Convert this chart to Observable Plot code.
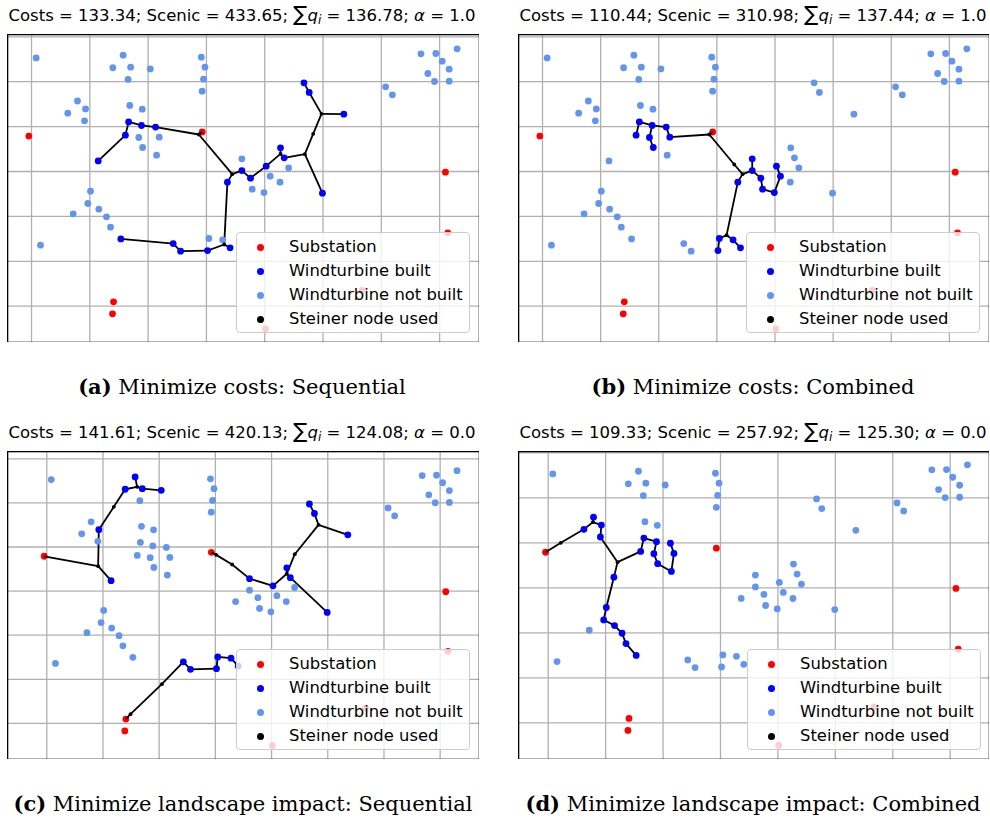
<!DOCTYPE html>
<html><head><meta charset="utf-8">
<script src="https://cdn.jsdelivr.net/npm/d3@7"></script>
<script src="https://cdn.jsdelivr.net/npm/@observablehq/plot@0.6"></script>
<style>
html,body{margin:0;padding:0;background:#fff}
#page{position:relative;width:990px;height:821px;overflow:hidden;background:#fff}
.panel{position:absolute}
.panel svg{display:block}
.legend{position:absolute;width:234px;height:101px;box-sizing:border-box;background:rgba(255,255,255,0.8);border:1px solid #cccccc;border-radius:4px;font-family:"DejaVu Sans";font-size:16.4px;color:#000}
.legend .row{position:absolute;left:0;height:24px;width:100%}
.legend .mk{position:absolute;left:19.5px;top:8.5px;width:7px;height:7px;border-radius:50%}
.legend .lb{position:absolute;left:52px;top:2px;line-height:20px;white-space:nowrap}
#text{position:absolute;left:0;top:0}
</style>
</head><body><div id="page"></div>
<script>
// ---------- data (grid units, y grows downward) ----------
const turbines = [
 [1,0.08,0.47],[2,1.572,0.41],[3,1.395,0.69],[4,1.70,0.676],[5,2.037,0.715],[6,1.656,0.95],
 [7,2.912,0.454],[8,2.975,0.676],[9,2.95,0.944],[10,2.927,1.211],[11,0.789,1.43],[12,0.926,1.607],
 [13,0.622,1.70],[14,0.909,1.871],[15,1.685,1.53],[16,1.90,1.611],[17,1.84,2.243],[18,2.19,2.236],
 [19,1.906,2.465],[20,2.145,2.636],[21,3.608,2.718],[22,1.012,3.438],[23,0.966,3.713],[24,1.155,3.839],
 [25,0.715,3.943],[26,1.286,4.01],[27,1.355,4.24],[28,0.154,4.64],[29,3.042,4.492],[30,3.278,4.522],
 [31,1.666,1.895],[32,1.886,1.975],[33,2.128,2.01],[34,1.61,2.191],[35,1.144,2.764],[36,3.608,2.98],
 [37,3.36,3.237],[38,1.532,4.502],[39,2.43,4.604],[40,2.557,4.774],[41,3.019,4.76],[42,3.406,4.70],
 [43,6.68,0.379],[44,6.935,0.372],[45,7.30,0.268],[46,7.044,0.543],[47,7.164,0.721],[48,6.798,0.817],
 [49,6.912,0.996],[50,7.164,0.988],[51,6.074,1.114],[52,6.19,1.292],[53,4.094,3.104],[54,3.786,3.393],
 [55,3.988,3.47],[56,4.262,3.238],[57,4.41,2.918],[58,4.673,1.025],[59,4.763,1.24],[60,5.357,1.723],
 [61,4.271,2.473],[62,4.334,2.696],[63,4.025,2.881],[64,3.756,3.148],[65,4.99,3.483]
];
const substations = [
 ["S1",-0.046,2.21],["S2",2.928,2.12],["S3",1.407,5.903],["S4",1.389,6.17],
 ["S5",7.10,3.015],["S6",7.14,4.366],["S7",5.671,5.65],["S8",4.014,6.504]
];
const steinerNodes = [
 ["N1",2.870,2.176],["N2",3.442,3.059],["N3",3.305,4.626],["N4",3.167,4.418],["N5",3.299,2.844],
 ["N6",4.974,1.716],["N7",4.831,2.161],["N8",4.688,2.614],["N9",4.271,2.606],
 ["C1",0.914,2.435],["C2",1.193,1.089],["C3",1.608,0.636],["C4",2.047,5.110],["C5",1.490,5.791],
 ["C6",3.014,2.178],["C7",3.298,2.397],["C8",4.413,2.163],["C9",4.835,1.497],
 ["D1",0.220,2.001],["D2",0.779,1.541],["D3",1.208,2.430]
];
const builtA = [31,32,33,34,35,36,37,38,39,40,41,42,58,59,60,61,62,63,64,65];
const builtB = [31,32,33,34,17,18,19,21,36,37,29,30,41,42,63,53,64,54,55];
const builtC = [2,3,4,5,12,35,39,40,41,29,30,42,58,59,60,61,62,63,21,65];
const builtD = [11,12,13,14,31,32,33,34,17,18,19,20,35,22,23,24,26,27,38];
const steinerA = ["N1","N2","N3","N6","N7","N8","N9"];
const steinerB = ["N1","N5","N2","N4"];
const steinerC = ["C1","C2","C3","C4","C5","C6","C7","C8","C9","N9"];
const steinerD = ["D1","D2","D3"];
const edgesA = [[35,34],[34,31],[31,32],[32,33],[33,"N1"],["N1","S2"],["N1","N2"],["N2",36],["N2",37],[37,"N3"],
 ["N3",42],["N3",41],[41,40],[40,39],[39,38],[36,64],[64,63],[63,"N9"],["N9",61],["N9",62],[62,"N8"],
 ["N8","N7"],["N7","N6"],["N6",60],["N6",59],[59,58],["N8",65]];
const edgesB = [[34,31],[31,32],[32,33],[33,18],[18,"N1"],["N1","S2"],[32,17],[17,19],["N1","N5"],["N5","N2"],
 ["N2",36],[36,21],["N2",37],[37,"N4"],["N4",29],[29,41],["N4",30],[30,42],[36,64],[64,54],[54,55],[55,53],[53,63]];
const edgesC = [["S1","C1"],["C1",35],["C1",12],[12,"C2"],["C2",3],[3,"C3"],["C3",2],["C3",4],[4,5],
 ["S3","C5"],["C5","C4"],["C4",39],[39,40],[40,41],[41,29],[29,30],[30,42],
 ["S2","C6"],["C6","C7"],["C7",21],[21,63],[63,"N9"],["N9",61],["N9",62],[62,65],["N9","C8"],["C8","C9"],
 ["C9",59],[59,58],["C9",60]];
const edgesD = [["S1","D1"],["D1",13],[13,"D2"],["D2",11],["D2",12],[12,14],[14,"D3"],["D3",34],[34,31],[31,32],
 [32,17],[17,19],[19,20],[20,18],[18,33],["D3",35],[35,22],[22,23],[23,24],[24,26],[26,27],[27,38]];
const costs = ["133.34","110.44","141.61","109.33"];
const scenic = ["433.65","310.98","420.13","257.92"];
const sumQ = ["136.78","137.44","124.08","125.30"];
const alphas = ["1.0","1.0","0.0","0.0"];
const captionLetters = ["(a)","(b)","(c)","(d)"];
const captionTexts = ["Minimize costs: Sequential","Minimize costs: Combined",
 "Minimize landscape impact: Sequential","Minimize landscape impact: Combined"];
const legendLabels = ["Substation","Windturbine built","Windturbine not built","Steiner node used"];
const gridXTicks = [0,1,2,3,4,5,6,7];
const gridYTicks = [0,1,2,3,4,5,6];

// ---------- colours ----------
const C_SUB = "#ff0000", C_BUILT = "#0000ff", C_NOT = "#6495ed", C_STEINER = "#000000";
const legendColors = [C_SUB, C_BUILT, C_NOT, C_STEINER];

// ---------- lookup ----------
const nodeMap = new Map();
turbines.forEach(([id,x,y]) => nodeMap.set(id,{x,y}));
substations.forEach(([id,x,y]) => nodeMap.set(id,{x,y}));
steinerNodes.forEach(([id,x,y]) => nodeMap.set(id,{x,y}));

const panels = [
 {left:7,  top:34,  w:472, h:308, xd:[-0.412,7.684], yd:[-0.051,6.808], lg:[236,232], built:builtA, st:steinerA, edges:edgesA},
 {left:518,top:34,  w:471, h:308, xd:[-0.413,7.690], yd:[-0.051,6.808], lg:[746,232], built:builtB, st:steinerB, edges:edgesB},
 {left:7,  top:451, w:472, h:308, xd:[-0.699,7.700], yd:[-0.166,6.819], lg:[236,649], built:builtC, st:steinerC, edges:edgesC},
 {left:518,top:451, w:471, h:308, xd:[-0.517,7.684], yd:[-0.029,6.816], lg:[747,649], built:builtD, st:steinerD, edges:edgesD}
];

const page = document.getElementById("page");

panels.forEach((p,i) => {
  const builtSet = new Set(p.built);
  const turb = turbines.map(([id,x,y]) => ({id,x,y,built:builtSet.has(id)}));
  const links = p.edges.map(([a,b]) => ({x1:nodeMap.get(a).x,y1:nodeMap.get(a).y,x2:nodeMap.get(b).x,y2:nodeMap.get(b).y}));
  const st = p.st.map(id => nodeMap.get(id));
  const subs = substations.map(([id,x,y]) => ({x,y}));
  const chart = Plot.plot({
    width:p.w, height:p.h, margin:0,
    x:{domain:p.xd, axis:null},
    y:{domain:p.yd, reverse:true, axis:null},
    marks:[
      Plot.gridX(gridXTicks,{stroke:"#b0b0b0",strokeOpacity:1,strokeWidth:1.3}),
      Plot.gridY(gridYTicks,{stroke:"#b0b0b0",strokeOpacity:1,strokeWidth:1.3}),
      Plot.dot(subs,{x:"x",y:"y",r:3.4,fill:C_SUB}),
      Plot.link(links,{x1:"x1",y1:"y1",x2:"x2",y2:"y2",stroke:"#000",strokeWidth:1.8}),
      Plot.dot(turb.filter(d=>!d.built),{x:"x",y:"y",r:3.4,fill:C_NOT}),
      Plot.dot(turb.filter(d=>d.built),{x:"x",y:"y",r:3.4,fill:C_BUILT}),
      Plot.dot(st,{x:"x",y:"y",r:1.9,fill:C_STEINER}),
      Plot.frame({stroke:"#000",strokeWidth:1.6})
    ]
  });
  const div = document.createElement("div");
  div.className = "panel";
  div.style.left = p.left+"px"; div.style.top = p.top+"px";
  div.appendChild(chart);
  page.appendChild(div);

  const lg = document.createElement("div");
  lg.className = "legend";
  lg.style.left = p.lg[0]+"px"; lg.style.top = p.lg[1]+"px";
  legendLabels.forEach((lab,k) => {
    const row = document.createElement("div");
    row.className = "row"; row.style.top = (2 + 24*k)+"px";
    const mk = document.createElement("div"); mk.className="mk"; mk.style.background = legendColors[k];
    const lb = document.createElement("div"); lb.className="lb"; lb.textContent = lab;
    row.appendChild(mk); row.appendChild(lb); lg.appendChild(row);
  });
  page.appendChild(lg);
});

// ---------- titles and captions ----------
const NS = "http://www.w3.org/2000/svg";
const svg = document.createElementNS(NS,"svg");
svg.setAttribute("id","text"); svg.setAttribute("width",990); svg.setAttribute("height",821);
page.appendChild(svg);
const titlePos = [[242,20.7],[753,20.7],[242,437.7],[753,437.7]];
const capPos = [[242,394],[753,394],[243,811],[753,811]];
function tspan(parent, txt, attrs){
  const t = document.createElementNS(NS,"tspan");
  for (const k in attrs) t.setAttribute(k, attrs[k]);
  t.textContent = txt; parent.appendChild(t); return t;
}
panels.forEach((p,i) => {
  const t = document.createElementNS(NS,"text");
  t.setAttribute("x",titlePos[i][0]); t.setAttribute("y",titlePos[i][1]);
  t.setAttribute("text-anchor","middle"); t.setAttribute("font-family","DejaVu Sans"); t.setAttribute("font-size","16.5");
  tspan(t, `Costs = ${costs[i]}; Scenic = ${scenic[i]}; `, {});
  tspan(t, "\u2211", {"font-size":"21"});
  tspan(t, "q", {"font-style":"italic"});
  tspan(t, "i", {"font-style":"italic","font-size":"12","dy":"3.5"});
  tspan(t, ` = ${sumQ[i]}; `, {"dy":"-3.5"});
  tspan(t, "\u03b1", {"font-style":"italic"});
  tspan(t, ` = ${alphas[i]}`, {});
  svg.appendChild(t);

  const c = document.createElementNS(NS,"text");
  c.setAttribute("x",capPos[i][0]); c.setAttribute("y",capPos[i][1]);
  c.setAttribute("text-anchor","middle"); c.setAttribute("font-family","DejaVu Serif"); c.setAttribute("font-size","21");
  tspan(c, captionLetters[i], {"font-weight":"bold"});
  tspan(c, " " + captionTexts[i], {});
  svg.appendChild(c);
});
</script>
</body></html>
